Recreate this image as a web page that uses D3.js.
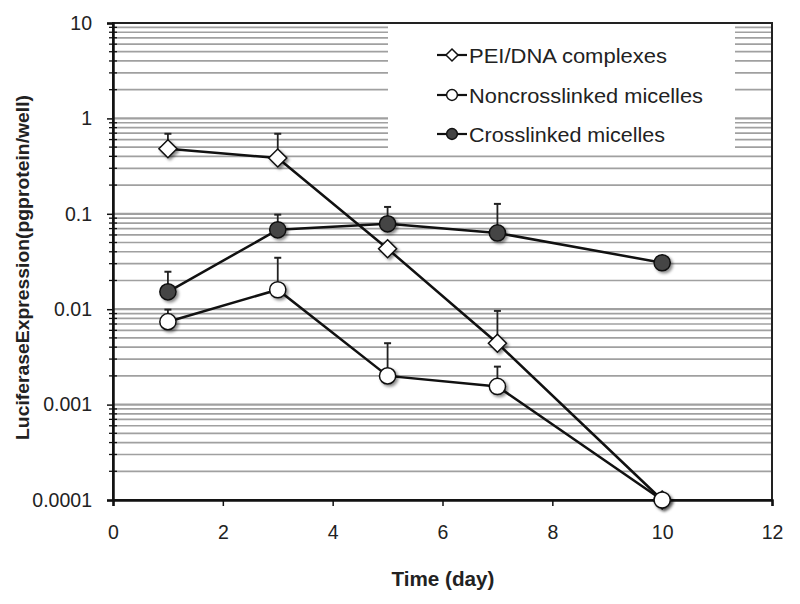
<!DOCTYPE html>
<html><head><meta charset="utf-8">
<script src="https://cdn.jsdelivr.net/npm/d3@7"></script>
<style>body{margin:0;background:#fff;} svg{display:block;font-family:"Liberation Sans",Arial,sans-serif;}</style>
</head><body><svg id="c" width="800" height="604"></svg>
<script>
const days = [1, 3, 5, 7, 10];
const seriesNames = ["PEI/DNA complexes", "Noncrosslinked micelles", "Crosslinked micelles"];
const peiValues = [0.48, 0.385, 0.043, 0.0044, 0.0001];
const peiErrTop = [0.69, 0.69, null, 0.0096, null];
const nonValues = [0.0074, 0.016, 0.0020, 0.00155, 0.0001];
const nonErrTop = [0.0099, 0.0346, 0.0044, 0.0025, null];
const crossValues = [0.0152, 0.068, 0.0785, 0.063, 0.0307];
const crossErrTop = [0.0247, 0.098, 0.118, 0.127, null];
const xTicks = [0, 2, 4, 6, 8, 10, 12];
const yTicks = [0.0001, 0.001, 0.01, 0.1, 1, 10];
const yTickLabels = ["0.0001", "0.001", "0.01", "0.1", "1", "10"];

const svg = d3.select("#c");
const L = 113, R = 772, T = 23, B = 500;
const x = d3.scaleLinear().domain([0, 12]).range([L, R]);
const y = d3.scaleLog().domain([0.0001, 10]).range([B, T]);

const defs = svg.append("defs");
const f = defs.append("filter").attr("id", "sh").attr("x", "-50%").attr("y", "-50%").attr("width", "200%").attr("height", "200%");
f.append("feDropShadow").attr("dx", 2).attr("dy", 2).attr("stdDeviation", 1.5).attr("flood-color", "#000").attr("flood-opacity", 0.45);

// gridlines at every log tick
const gridVals = [];
for (let e = -4; e < 1; e++) for (let m = 1; m <= 9; m++) gridVals.push(m * Math.pow(10, e));
gridVals.push(10);
const isMajor = d => Math.abs(Math.log10(d) - Math.round(Math.log10(d))) < 1e-9;
svg.append("g").selectAll("line").data(gridVals).join("line")
  .attr("x1", L).attr("x2", R).attr("y1", d => y(d)).attr("y2", d => y(d))
  .attr("stroke", "#a0a0a0").attr("stroke-width", d => isMajor(d) ? 2.2 : 1.7);

// legend background
svg.append("rect").attr("x", 388).attr("y", T + 2).attr("width", 347).attr("height", 127).attr("fill", "#fff");

// frame
svg.append("rect").attr("x", L).attr("y", T).attr("width", R - L).attr("height", B - T)
  .attr("fill", "none").attr("stroke", "#222").attr("stroke-width", 2);

// x axis
const xAxis = d3.axisBottom(x).tickValues(xTicks).tickSize(6).tickPadding(19).tickFormat(d3.format("d"));
const gx = svg.append("g").attr("transform", `translate(0,${B})`).call(xAxis);
gx.select(".domain").attr("stroke", "#111").attr("stroke-width", 2.5);
gx.selectAll(".tick line").attr("stroke", "#111").attr("stroke-width", 1.5);
gx.selectAll("text").attr("font-size", 19.5).attr("fill", "#222");

// y axis
const yAxis = d3.axisLeft(y).tickValues(yTicks).tickSize(6).tickPadding(15).tickFormat((d, i) => yTickLabels[i]);
const gy = svg.append("g").attr("transform", `translate(${L},0)`).call(yAxis);
gy.select(".domain").attr("stroke", "#111").attr("stroke-width", 2.5);
gy.selectAll(".tick line").attr("stroke", "#111").attr("stroke-width", 1.5);
gy.selectAll("text").attr("font-size", 19.5).attr("fill", "#222");
// minor ticks
svg.append("g").selectAll("line").data(gridVals.filter(d => !isMajor(d)))
  .join("line").attr("x1", L - 4).attr("x2", L + 4).attr("y1", d => y(d)).attr("y2", d => y(d))
  .attr("stroke", "#111").attr("stroke-width", 1.3);

// axis titles
svg.append("text").attr("x", 443).attr("y", 586).attr("text-anchor", "middle")
  .attr("font-size", 20).attr("font-weight", "bold").attr("fill", "#222")
  .attr("textLength", 103).attr("lengthAdjust", "spacingAndGlyphs").text("Time (day)");
svg.append("text").attr("transform", `translate(29,${(T + B) / 2 + 6}) rotate(-90)`).attr("text-anchor", "middle")
  .attr("font-size", 19).attr("font-weight", "bold").attr("fill", "#222")
  .attr("textLength", 345).attr("lengthAdjust", "spacingAndGlyphs").text("LuciferaseExpression(pgprotein/well)");

const series = [
  { name: seriesNames[0], vals: peiValues, err: peiErrTop, shape: "diamond", fill: "#fff" },
  { name: seriesNames[1], vals: nonValues, err: nonErrTop, shape: "circle", fill: "#fff" },
  { name: seriesNames[2], vals: crossValues, err: crossErrTop, shape: "circle", fill: "#444" }
];

const line = d3.line().x(d => x(d.d)).y(d => y(d.v));
function marker(g, s, cx, cy, size) {
  if (s.shape === "diamond") {
    g.append("path").attr("d", `M${cx},${cy - size}L${cx + size},${cy}L${cx},${cy + size}L${cx - size},${cy}Z`)
      .attr("fill", s.fill).attr("stroke", "#111").attr("stroke-width", 1.5);
  } else {
    g.append("circle").attr("cx", cx).attr("cy", cy).attr("r", size * 0.9)
      .attr("fill", s.fill).attr("stroke", "#111").attr("stroke-width", 1.5);
  }
}

// error bars
series.forEach(s => {
  const g = svg.append("g");
  s.vals.forEach((v, i) => {
    if (s.err[i] == null) return;
    const cx = x(days[i]);
    g.append("line").attr("x1", cx).attr("x2", cx).attr("y1", y(v)).attr("y2", y(s.err[i])).attr("stroke", "#222").attr("stroke-width", 1.8);
    g.append("line").attr("x1", cx - 3.5).attr("x2", cx + 3.5).attr("y1", y(s.err[i])).attr("y2", y(s.err[i])).attr("stroke", "#222").attr("stroke-width", 2);
  });
});
// lines
series.forEach(s => {
  svg.append("path").datum(s.vals.map((v, i) => ({ d: days[i], v })))
    .attr("d", line).attr("fill", "none").attr("stroke", "#111").attr("stroke-width", 2.5);
});
// markers
series.forEach(s => {
  const g = svg.append("g").attr("filter", "url(#sh)");
  s.vals.forEach((v, i) => marker(g, s, x(days[i]), y(v), 9));
});

// legend
const ly = [55, 95, 134];
const lw = [198, 234, 196];
series.forEach((s, i) => {
  const g = svg.append("g");
  g.append("line").attr("x1", 437).attr("x2", 467).attr("y1", ly[i]).attr("y2", ly[i]).attr("stroke", "#111").attr("stroke-width", 2.2);
  marker(g, s, 452, ly[i], 6);
  g.append("text").attr("x", 469).attr("y", ly[i] + 7.5).attr("font-size", 21).attr("fill", "#222")
    .attr("textLength", lw[i]).attr("lengthAdjust", "spacingAndGlyphs").text(s.name);
});
</script></body></html>
